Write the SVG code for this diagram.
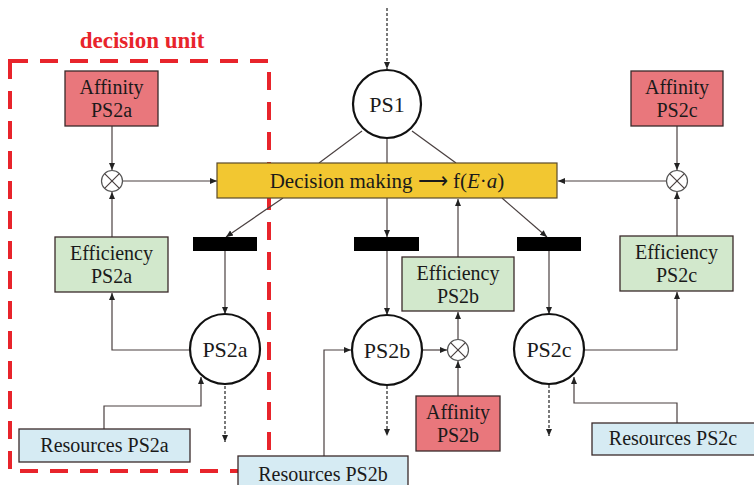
<svg xmlns="http://www.w3.org/2000/svg" width="754" height="485" viewBox="0 0 754 485">
<style>
.t{font-family:'Liberation Serif','Times New Roman',serif;font-size:20px;fill:#1a1a1a;text-anchor:middle}
.c{font-family:'Liberation Serif','Times New Roman',serif;font-size:22px;fill:#1a1a1a;text-anchor:middle}
.ln{stroke:#4a4040;stroke-width:1.2;fill:none}
.dl{stroke:#333;stroke-width:1.3;fill:none;stroke-dasharray:3 2}
.aff{fill:#e9777c;stroke:#3a2a2a;stroke-width:1.3}
.eff{fill:#d2e8cc;stroke:#3a2a2a;stroke-width:1.3}
.res{fill:#d6ebf3;stroke:#3a2a2a;stroke-width:1.3}
.circ{fill:#fff;stroke:#111;stroke-width:2.2}
.mul{fill:#fff;stroke:#555;stroke-width:1.2}
.bar{fill:#000}
.du{font-family:'Liberation Serif','Times New Roman',serif;font-size:23px;font-weight:bold;fill:#e8242b;text-anchor:middle}
.dm{font-family:'Liberation Serif','Times New Roman',serif;font-size:21px;fill:#1a1a1a;text-anchor:middle}
</style>
<defs>
<marker id="ah" markerWidth="8" markerHeight="8" refX="7" refY="4" orient="auto" markerUnits="userSpaceOnUse">
<path d="M0,1 L7,4 L0,7 Z" fill="#222"/>
</marker>
</defs>
<rect width="754" height="485" fill="#fff"/>

<g id="decision-unit">
<rect x="10" y="61" width="259" height="410" fill="none" stroke="#e8242b" stroke-width="4" stroke-dasharray="18 12"/>
<text class="du" x="142" y="48">decision unit</text>
</g>

<g id="connectors">
<line class="dl" x1="387" y1="8" x2="387" y2="69" marker-end="url(#ah)"/>
<line class="ln" x1="362" y1="131" x2="319" y2="163"/>
<line class="ln" x1="387" y1="138" x2="387" y2="163"/>
<line class="ln" x1="412" y1="131" x2="456" y2="163"/>
<line class="ln" x1="283" y1="198" x2="226" y2="237" marker-end="url(#ah)"/>
<line class="ln" x1="387" y1="198" x2="387" y2="237" marker-end="url(#ah)"/>
<line class="ln" x1="502" y1="198" x2="547" y2="237" marker-end="url(#ah)"/>
<line class="ln" x1="225" y1="251" x2="225" y2="314" marker-end="url(#ah)"/>
<line class="ln" x1="387" y1="251" x2="387" y2="315" marker-end="url(#ah)"/>
<line class="ln" x1="549" y1="251" x2="549" y2="314" marker-end="url(#ah)"/>
<line class="ln" x1="112" y1="126" x2="112" y2="170" marker-end="url(#ah)"/>
<line class="ln" x1="112" y1="237" x2="112" y2="192" marker-end="url(#ah)"/>
<line class="ln" x1="123" y1="181" x2="217" y2="181" marker-end="url(#ah)"/>
<polyline class="ln" points="190,350 112,350 112,293" marker-end="url(#ah)"/>
<polyline class="ln" points="104,429 104,406 201,406 201,377" marker-end="url(#ah)"/>
<line class="dl" x1="225" y1="386" x2="225" y2="442" marker-end="url(#ah)"/>
<polyline class="ln" points="324,456 324,350 351,350" marker-end="url(#ah)"/>
<line class="ln" x1="423" y1="350" x2="447" y2="350" marker-end="url(#ah)"/>
<line class="ln" x1="458" y1="396" x2="458" y2="361" marker-end="url(#ah)"/>
<line class="ln" x1="458" y1="339" x2="458" y2="312" marker-end="url(#ah)"/>
<line class="ln" x1="458" y1="257" x2="458" y2="199" marker-end="url(#ah)"/>
<line class="dl" x1="387" y1="386" x2="387" y2="436" marker-end="url(#ah)"/>
<line class="ln" x1="677" y1="126" x2="677" y2="170" marker-end="url(#ah)"/>
<line class="ln" x1="677" y1="236" x2="677" y2="192" marker-end="url(#ah)"/>
<line class="ln" x1="666" y1="181" x2="558" y2="181" marker-end="url(#ah)"/>
<polyline class="ln" points="585,350 677,350 677,292" marker-end="url(#ah)"/>
<polyline class="ln" points="677,423 677,403 574,403 574,377" marker-end="url(#ah)"/>
<line class="dl" x1="549" y1="385" x2="549" y2="436" marker-end="url(#ah)"/>
</g>

<g id="decision-making">
<rect x="217" y="163" width="340" height="35" fill="#f2c731" stroke="#5a4a2a" stroke-width="1.2"/>
<text class="dm" x="387" y="188">Decision making ⟶ f(<tspan font-style="italic">E</tspan>·<tspan font-style="italic">a</tspan>)</text>
</g>

<g id="PS1"><circle class="circ" cx="387" cy="104" r="34"/><text class="c" x="387" y="112">PS1</text></g>
<g id="PS2a"><circle class="circ" cx="225" cy="349" r="35"/><text class="c" x="225" y="357">PS2a</text></g>
<g id="PS2b"><circle class="circ" cx="387" cy="350" r="35"/><text class="c" x="387" y="358">PS2b</text></g>
<g id="PS2c"><circle class="circ" cx="549" cy="349" r="35"/><text class="c" x="549" y="357">PS2c</text></g>

<g id="bar-a"><rect class="bar" x="193" y="237" width="64" height="14"/></g>
<g id="bar-b"><rect class="bar" x="354" y="237" width="65" height="14"/></g>
<g id="bar-c"><rect class="bar" x="517" y="237" width="64" height="14"/></g>

<g id="mult-a"><circle class="mul" cx="112" cy="181" r="10.5"/><path class="ln" d="M104.6,173.6 L119.4,188.4 M119.4,173.6 L104.6,188.4"/></g>
<g id="mult-b"><circle class="mul" cx="458" cy="350" r="10.5"/><path class="ln" d="M450.6,342.6 L465.4,357.4 M465.4,342.6 L450.6,357.4"/></g>
<g id="mult-c"><circle class="mul" cx="677" cy="181" r="10.5"/><path class="ln" d="M669.6,173.6 L684.4,188.4 M684.4,173.6 L669.6,188.4"/></g>

<g id="affinity-ps2a"><rect class="aff" x="65" y="71" width="93" height="55"/><text class="t" x="111.5" y="94">Affinity</text><text class="t" x="111.5" y="117">PS2a</text></g>
<g id="affinity-ps2c"><rect class="aff" x="631" y="71" width="92" height="55"/><text class="t" x="677" y="94">Affinity</text><text class="t" x="677" y="117">PS2c</text></g>
<g id="affinity-ps2b"><rect class="aff" x="416" y="396" width="84" height="55"/><text class="t" x="458" y="419">Affinity</text><text class="t" x="458" y="442">PS2b</text></g>

<g id="efficiency-ps2a"><rect class="eff" x="55" y="237" width="113" height="55"/><text class="t" x="111.5" y="260">Efficiency</text><text class="t" x="111.5" y="283">PS2a</text></g>
<g id="efficiency-ps2b"><rect class="eff" x="402" y="257" width="112" height="54"/><text class="t" x="458" y="280">Efficiency</text><text class="t" x="458" y="303">PS2b</text></g>
<g id="efficiency-ps2c"><rect class="eff" x="620" y="236" width="113" height="55"/><text class="t" x="676.5" y="259">Efficiency</text><text class="t" x="676.5" y="282">PS2c</text></g>

<g id="resources-ps2a"><rect class="res" x="19" y="429" width="171" height="33"/><text class="t" x="104.5" y="452">Resources PS2a</text></g>
<g id="resources-ps2b"><rect class="res" x="238" y="456" width="170" height="36"/><text class="t" x="323" y="481">Resources PS2b</text></g>
<g id="resources-ps2c"><rect class="res" x="592" y="423" width="166" height="32"/><text class="t" x="673" y="445">Resources PS2c</text></g>
</svg>
